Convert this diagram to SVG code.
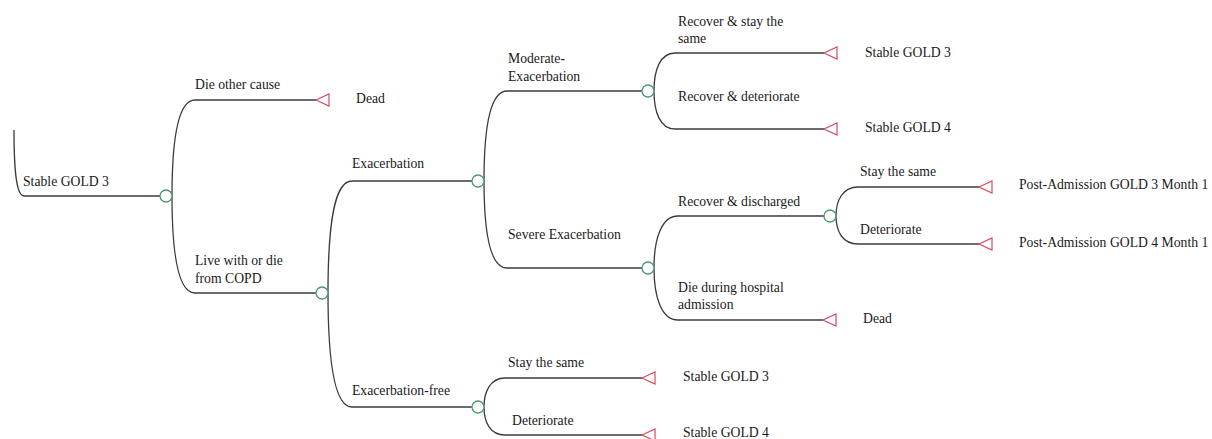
<svg xmlns="http://www.w3.org/2000/svg" width="1212" height="439" viewBox="0 0 1212 439">
<style>
.ln{fill:none;stroke:#3a3a3a;stroke-width:1.3}
.ch{fill:#fff;stroke:#4a9a72;stroke-width:1.3}
.tm{fill:#fff;stroke:#d8485f;stroke-width:1.2}
text{font-family:"Liberation Serif","Times New Roman",serif;font-size:13.7px;fill:#1a1a1a}
</style>
<rect width="1212" height="439" fill="#fff"/>
<g id="connectors">
<path class="ln" d="M14,130 C14,168 16,196 24,196 H160"/>
<path class="ln" d="M195,100 C178,100 172,140 172,196 C172,252 178,293 195,293"/>
<path class="ln" d="M195,100 H316"/>
<path class="ln" d="M195,293 H316"/>
<path class="ln" d="M352,181 C335,181 328,220 328,293 C328,366 335,407 352,407"/>
<path class="ln" d="M352,181 H472"/>
<path class="ln" d="M352,407 H472"/>
<path class="ln" d="M507,91 C491,91 484,125 484,181 C484,237 491,268 507,268"/>
<path class="ln" d="M507,91 H642"/>
<path class="ln" d="M507,268 H642"/>
<path class="ln" d="M675,53 C660,53 654,70 654,91 C654,112 660,129 675,129"/>
<path class="ln" d="M675,53 H824"/>
<path class="ln" d="M675,129 H824"/>
<path class="ln" d="M678,216 C661,216 654,240 654,268 C654,296 661,320 678,320"/>
<path class="ln" d="M678,216 H824"/>
<path class="ln" d="M678,320 H823"/>
<path class="ln" d="M858,187 C843,187 836,200 836,216 C836,232 843,244 858,244"/>
<path class="ln" d="M858,187 H979"/>
<path class="ln" d="M858,244 H979"/>
<path class="ln" d="M505,378 C490,378 484,392 484,407 C484,422 490,435 505,435"/>
<path class="ln" d="M505,378 H642"/>
<path class="ln" d="M505,435 H642"/>
</g>
<g id="n-root"><text x="23" y="186">Stable GOLD 3</text><circle class="ch" cx="166" cy="196" r="6"/></g>
<g id="n-die-other"><text x="195" y="89">Die other cause</text><path class="tm" d="M316,100 L329,94 L329,106 Z"/><text x="356" y="103">Dead</text></g>
<g id="n-live"><text x="195" y="265">Live with or die</text><text x="195" y="283">from COPD</text><circle class="ch" cx="322" cy="293" r="6"/></g>
<g id="n-exac"><text x="352" y="168">Exacerbation</text><circle class="ch" cx="478" cy="181" r="6"/></g>
<g id="n-exac-free"><text x="352" y="395">Exacerbation-free</text><circle class="ch" cx="478" cy="407" r="6"/></g>
<g id="n-moderate"><text x="508" y="63">Moderate-</text><text x="508" y="81">Exacerbation</text><circle class="ch" cx="648" cy="91" r="6"/></g>
<g id="n-severe"><text x="508" y="239">Severe Exacerbation</text><circle class="ch" cx="648" cy="268" r="6"/></g>
<g id="n-rec-same"><text x="678" y="26">Recover &amp; stay the</text><text x="678" y="43">same</text><path class="tm" d="M824,53 L837,47 L837,59 Z"/><text x="865" y="57">Stable GOLD 3</text></g>
<g id="n-rec-det"><text x="678" y="101">Recover &amp; deteriorate</text><path class="tm" d="M824,129 L837,123 L837,135 Z"/><text x="865" y="132">Stable GOLD 4</text></g>
<g id="n-rec-dis"><text x="678" y="206">Recover &amp; discharged</text><circle class="ch" cx="830" cy="216" r="6"/></g>
<g id="n-die-hosp"><text x="678" y="292">Die during hospital</text><text x="678" y="309">admission</text><path class="tm" d="M823,320 L836,314 L836,326 Z"/><text x="863" y="323">Dead</text></g>
<g id="n-post-same"><text x="860" y="176">Stay the same</text><path class="tm" d="M979,187 L992,181 L992,193 Z"/><text x="1019" y="189">Post-Admission GOLD 3 Month 1</text></g>
<g id="n-post-det"><text x="860" y="234">Deteriorate</text><path class="tm" d="M979,244 L992,238 L992,250 Z"/><text x="1019" y="247">Post-Admission GOLD 4 Month 1</text></g>
<g id="n-free-same"><text x="508" y="367">Stay the same</text><path class="tm" d="M642,378 L655,372 L655,384 Z"/><text x="683" y="381">Stable GOLD 3</text></g>
<g id="n-free-det"><text x="512" y="425">Deteriorate</text><path class="tm" d="M642,435 L655,429 L655,441 Z"/><text x="683" y="437">Stable GOLD 4</text></g>
</svg>
